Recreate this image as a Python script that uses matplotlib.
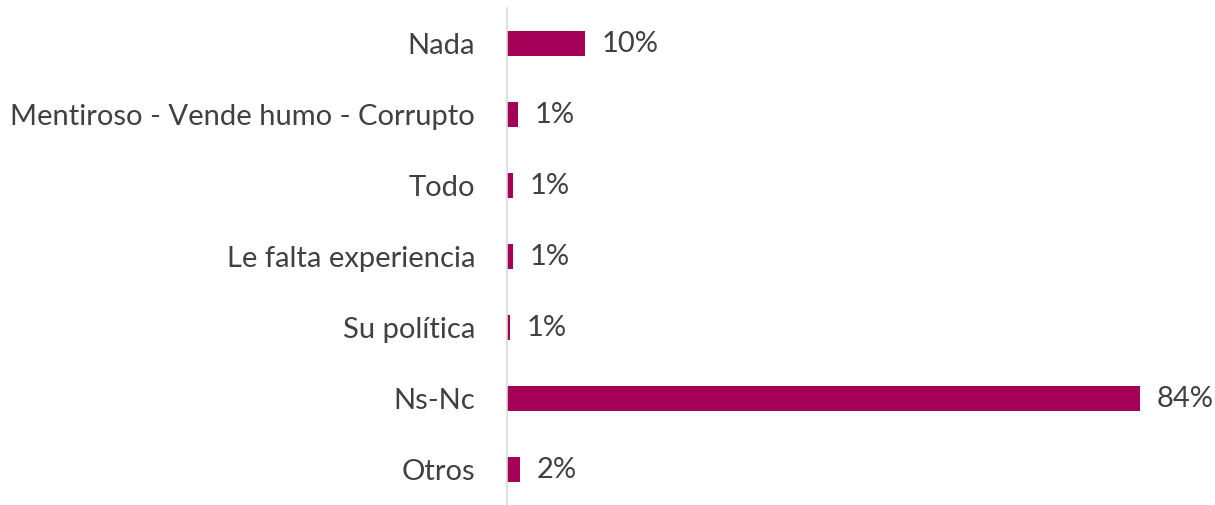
import matplotlib
matplotlib.use("Agg")
import matplotlib.pyplot as plt

categories = ["Nada", "Mentiroso - Vende humo - Corrupto", "Todo",
              "Le falta experiencia", "Su política", "Ns-Nc", "Otros"]
values = [10.3, 1.4, 0.8, 0.8, 0.45, 84.0, 1.7]
labels = ["10%", "1%", "1%", "1%", "1%", "84%", "2%"]

plt.rcParams["font.family"] = ["Lato", "DejaVu Sans"]

fig = plt.figure(figsize=(12.15, 5.05), dpi=100)
ax = fig.add_axes([507 / 1215, 0.0, (1140 - 507) / 1215, 1 - 8 / 505])

y = list(range(len(categories)))
ax.barh(y, values, height=0.35, color="#A50057")
ax.set_xlim(0, 84.0)
ax.set_ylim(len(categories) - 0.5, -0.5)

for yi, v, lab in zip(y, values, labels):
    ax.annotate(lab, (v, yi), xytext=(12, 0), textcoords="offset points",
                va="center", ha="left", fontsize=21, color="#404040")

ax.set_yticks(y)
ax.set_yticklabels(categories, fontsize=21, color="#404040")
ax.tick_params(axis="y", length=0, pad=23)
ax.set_xticks([])
for s in ["top", "right", "bottom"]:
    ax.spines[s].set_visible(False)
ax.spines["left"].set_color("#d9d9d9")
ax.spines["left"].set_linewidth(1.2)

fig.savefig("out.png", dpi=100, facecolor="white")
